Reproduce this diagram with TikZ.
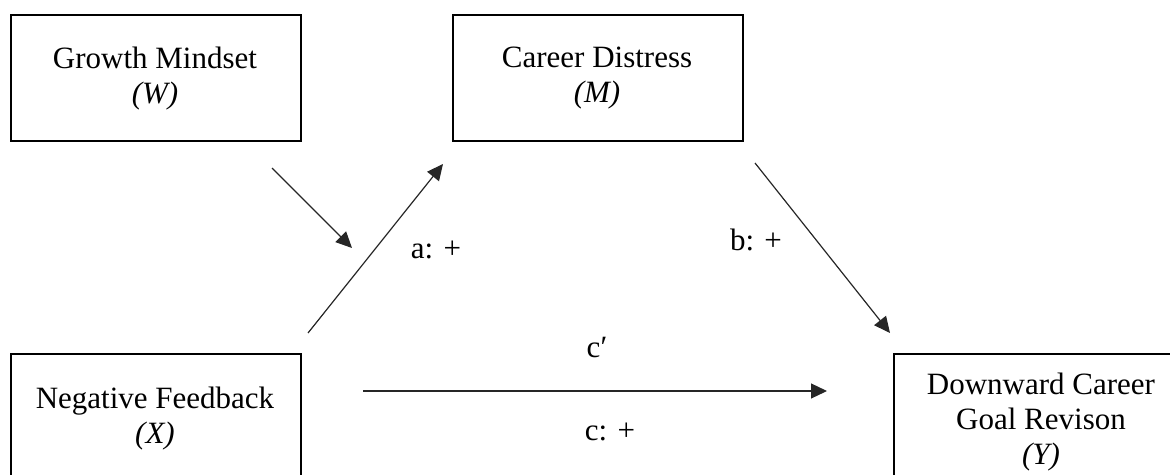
\documentclass[tikz,border=0pt]{standalone}
\usepackage{fontspec}
\setmainfont{Liberation Serif}
\usetikzlibrary{arrows.meta}
\begin{document}
\begin{tikzpicture}[x=0.5pt,y=-0.5pt,
  box/.style={draw=black, line width=1pt, inner sep=0pt, anchor=north west},
  lbl/.style={font=\fontsize{15.5}{17.5}\selectfont, align=center, inner sep=0pt, anchor=north},
  arr/.style={draw=black!85, line width=0.6pt, -{Triangle[length=8pt,width=7.5pt]}},
  tag/.style={font=\fontsize{15.5}{17.5}\selectfont, inner sep=0pt}]
\useasboundingbox (0,0) rectangle (1170,475);
% boxes
\node[box, minimum width=145pt, minimum height=63pt] (W) at (10,14) {};
\node[box, minimum width=145pt, minimum height=63pt] (M) at (452,14) {};
\node[box, minimum width=145pt, minimum height=73.5pt] (X) at (10,353) {};
\node[box, minimum width=170pt, minimum height=73.5pt] (Y) at (893,353) {};
% box texts
\node[lbl] (Wt) at (155,47) {Growth Mindset\\\textit{(W)}};
\node[lbl] (Mt) at (597,47) {Career Distress\\\textit{(M)}};
\node[lbl] (Xt) at (155,387) {Negative Feedback\\\textit{(X)}};
\node[lbl] (Yt) at (1041,373) {Downward Career\\Goal Revison\\\textit{(Y)}};
% connector end points
\coordinate (aS) at (308,333);
\coordinate (aE) at (443,164);
\coordinate (wS) at (272,168);
\coordinate (wE) at (352,248);
\coordinate (bS) at (755,163);
\coordinate (bE) at (890,333);
\coordinate (cS) at (363,391);
\coordinate (cE) at (827,391);
% connectors
\draw[arr] (aS) -- (aE);
\draw[arr] (wS) -- (wE);
\draw[arr] (bS) -- (bE);
\draw[arr] (cS) -- (cE);
% labels
\node[tag] (la) at (436,250) {a: +};
\node[tag] (lb) at (756,240) {b: +};
\node[tag] (lcp) at (597,348) {c′};
\node[tag] (lc) at (610,432) {c: +};
\end{tikzpicture}
\end{document}
